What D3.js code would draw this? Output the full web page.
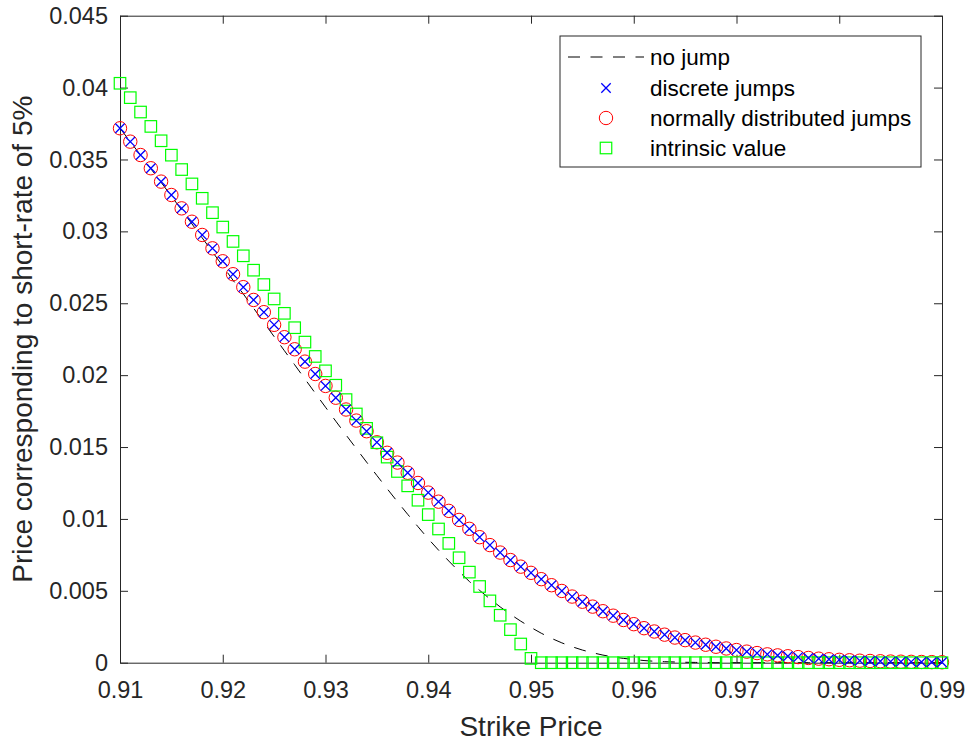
<!DOCTYPE html>
<html>
<head>
<meta charset="utf-8">
<script src="https://cdn.jsdelivr.net/npm/d3@7"></script>
<style>
  body { margin: 0; background: #fff; }
  svg { font-family: "Liberation Sans", Arial, sans-serif; }
</style>
</head>
<body>
<svg id="chart"></svg>
<script>
const strikes = [
  0.910, 0.911, 0.912, 0.913, 0.914, 0.915, 0.916, 0.917, 0.918, 0.919,
  0.920, 0.921, 0.922, 0.923, 0.924, 0.925, 0.926, 0.927, 0.928, 0.929,
  0.930, 0.931, 0.932, 0.933, 0.934, 0.935, 0.936, 0.937, 0.938, 0.939,
  0.940, 0.941, 0.942, 0.943, 0.944, 0.945, 0.946, 0.947, 0.948, 0.949,
  0.950, 0.951, 0.952, 0.953, 0.954, 0.955, 0.956, 0.957, 0.958, 0.959,
  0.960, 0.961, 0.962, 0.963, 0.964, 0.965, 0.966, 0.967, 0.968, 0.969,
  0.970, 0.971, 0.972, 0.973, 0.974, 0.975, 0.976, 0.977, 0.978, 0.979,
  0.980, 0.981, 0.982, 0.983, 0.984, 0.985, 0.986, 0.987, 0.988, 0.989,
  0.990
];

const noJump = [
  0.03717, 0.03624, 0.03530, 0.03436, 0.03341, 0.03245, 0.03149, 0.03052, 0.02955, 0.02857,
  0.02759, 0.02660, 0.02565, 0.02466, 0.02367, 0.02268, 0.02170, 0.02072, 0.01973, 0.01875,
  0.01777, 0.01680, 0.01584, 0.01489, 0.01395, 0.01302, 0.01210, 0.01120, 0.01032, 0.00946,
  0.00862, 0.00783, 0.00707, 0.00634, 0.00565, 0.00503, 0.00444, 0.00388, 0.00336, 0.00289,
  0.00245, 0.00205, 0.00169, 0.00138, 0.00111, 0.00088, 0.00069, 0.00053, 0.00040, 0.00030,
  0.00022, 0.00015, 0.00010, 0.00007, 0.00005, 0.00003, 0.00002, 0.00001, 0, 0,
  0, 0, 0, 0, 0, 0, 0, 0, 0, 0,
  0, 0, 0, 0, 0, 0, 0, 0, 0, 0,
  0
];

const discreteJumps = [
  0.03717, 0.03624, 0.03531, 0.03439, 0.03346, 0.03253, 0.03160, 0.03067, 0.02975, 0.02882,
  0.02792, 0.02702, 0.02612, 0.02523, 0.02438, 0.02350, 0.02264, 0.02180, 0.02094, 0.02008,
  0.01925, 0.01843, 0.01761, 0.01684, 0.01610, 0.01533, 0.01460, 0.01392, 0.01321, 0.01250,
  0.01183, 0.01120, 0.01056, 0.00993, 0.00931, 0.00873, 0.00818, 0.00766, 0.00714, 0.00668,
  0.00625, 0.00581, 0.00539, 0.00499, 0.00460, 0.00424, 0.00390, 0.00358, 0.00327, 0.00297,
  0.00268, 0.00240, 0.00217, 0.00195, 0.00175, 0.00157, 0.00140, 0.00125, 0.00111, 0.00099,
  0.00088, 0.00077, 0.00067, 0.00058, 0.00051, 0.00045, 0.00039, 0.00033, 0.00028, 0.00024,
  0.00020, 0.00017, 0.00014, 0.00012, 0.00010, 0.00008, 0.00007, 0.00006, 0.00005, 0.00004,
  0.00003
];

const normalJumps = [
  0.03717, 0.03624, 0.03531, 0.03439, 0.03346, 0.03253, 0.03160, 0.03067, 0.02975, 0.02882,
  0.02792, 0.02702, 0.02612, 0.02523, 0.02438, 0.02350, 0.02264, 0.02180, 0.02094, 0.02008,
  0.01925, 0.01843, 0.01761, 0.01684, 0.01610, 0.01533, 0.01460, 0.01392, 0.01321, 0.01250,
  0.01183, 0.01120, 0.01056, 0.00993, 0.00931, 0.00873, 0.00818, 0.00766, 0.00714, 0.00668,
  0.00625, 0.00581, 0.00539, 0.00499, 0.00460, 0.00424, 0.00390, 0.00358, 0.00327, 0.00297,
  0.00268, 0.00240, 0.00217, 0.00195, 0.00175, 0.00157, 0.00140, 0.00125, 0.00111, 0.00099,
  0.00088, 0.00077, 0.00067, 0.00058, 0.00051, 0.00045, 0.00039, 0.00033, 0.00028, 0.00024,
  0.00020, 0.00017, 0.00014, 0.00012, 0.00010, 0.00008, 0.00007, 0.00006, 0.00005, 0.00004,
  0.00003
];

const intrinsicValue = [
  0.0403, 0.0393, 0.0383, 0.0373, 0.0363, 0.0353, 0.0343, 0.0333, 0.0323, 0.0313,
  0.0303, 0.0293, 0.0283, 0.0273, 0.0263, 0.0253, 0.0243, 0.0233, 0.0223, 0.0213,
  0.0203, 0.0193, 0.0183, 0.0173, 0.0163, 0.0153, 0.0143, 0.0133, 0.0123, 0.0113,
  0.0103, 0.0093, 0.0083, 0.0073, 0.0063, 0.0053, 0.0043, 0.0033, 0.0023, 0.0013,
  0.0003, 0, 0, 0, 0, 0, 0, 0, 0, 0,
  0, 0, 0, 0, 0, 0, 0, 0, 0, 0,
  0, 0, 0, 0, 0, 0, 0, 0, 0, 0,
  0, 0, 0, 0, 0, 0, 0, 0, 0, 0,
  0
];

const xTicks = [0.91, 0.92, 0.93, 0.94, 0.95, 0.96, 0.97, 0.98, 0.99];
const yTicks = [0, 0.005, 0.01, 0.015, 0.02, 0.025, 0.03, 0.035, 0.04, 0.045];
const legendLabels = ["no jump", "discrete jumps", "normally distributed jumps", "intrinsic value"];

const W = 966, H = 743;
const margin = { top: 15.7, right: 24, bottom: 80.3, left: 120 };
const width = W - margin.left - margin.right;
const height = H - margin.top - margin.bottom;
const axisColor = "#262626";
const dash = "12,10.5";

const svg = d3.select("#chart").attr("width", W).attr("height", H);
svg.append("rect").attr("width", W).attr("height", H).attr("fill", "#fff");

const g = svg.append("g").attr("transform", `translate(${margin.left},${margin.top})`);

const x = d3.scaleLinear().domain([0.91, 0.99]).range([0, width]);
const y = d3.scaleLinear().domain([0, 0.045]).range([height, 0]);

function styleAxis(sel) {
    sel.select(".domain").attr("stroke", axisColor).attr("stroke-width", 1);
    sel.selectAll(".tick line").attr("stroke", axisColor).attr("stroke-width", 1);
    sel.selectAll(".tick text").attr("fill", axisColor).style("font-size", "23.5px");
}

g.append("g")
    .attr("transform", `translate(0,${height})`)
    .call(d3.axisBottom(x).tickValues(xTicks).tickFormat(d => +d.toFixed(2)).tickSizeInner(-8).tickSizeOuter(0).tickPadding(19))
    .call(styleAxis);

g.append("g")
    .call(d3.axisLeft(y).tickValues(yTicks).tickFormat(d => +d.toFixed(3)).tickSizeInner(-8).tickSizeOuter(0).tickPadding(12))
    .call(styleAxis);

g.append("g")
    .call(d3.axisTop(x).tickValues(xTicks).tickFormat("").tickSizeInner(-8).tickSizeOuter(0))
    .call(styleAxis);

g.append("g")
    .attr("transform", `translate(${width},0)`)
    .call(d3.axisRight(y).tickValues(yTicks).tickFormat("").tickSizeInner(-8).tickSizeOuter(0))
    .call(styleAxis);

// no jump curve
const line = d3.line().x((d, i) => x(strikes[i])).y(d => y(d));
g.append("path")
    .datum(noJump)
    .attr("fill", "none")
    .attr("stroke", "#000")
    .attr("stroke-width", 1)
    .attr("stroke-dasharray", dash)
    .attr("d", line);

// normally distributed jumps
g.selectAll(".circ")
    .data(normalJumps)
    .enter()
    .append("circle")
    .attr("cx", (d, i) => x(strikes[i]))
    .attr("cy", d => y(d))
    .attr("r", 6.7)
    .attr("fill", "none")
    .attr("stroke", "#ff0000")
    .attr("stroke-width", 1);

// intrinsic value
const sq = 11.5;
g.selectAll(".sq")
    .data(intrinsicValue)
    .enter()
    .append("rect")
    .attr("x", (d, i) => x(strikes[i]) - sq / 2)
    .attr("y", d => y(d) - sq / 2)
    .attr("width", sq)
    .attr("height", sq)
    .attr("fill", "none")
    .attr("stroke", "#00ff00")
    .attr("stroke-width", 1.2);

// discrete jumps
const xs = 4.7;
g.selectAll(".cross")
    .data(discreteJumps)
    .enter()
    .append("path")
    .attr("transform", (d, i) => `translate(${x(strikes[i])},${y(d)})`)
    .attr("d", `M${-xs},${-xs}L${xs},${xs}M${-xs},${xs}L${xs},${-xs}`)
    .attr("stroke", "#0000ff")
    .attr("stroke-width", 1.3)
    .attr("fill", "none");

// axis labels
svg.append("text")
    .attr("x", margin.left + width / 2)
    .attr("y", 736)
    .attr("text-anchor", "middle")
    .attr("fill", axisColor)
    .style("font-size", "28px")
    .text("Strike Price");

svg.append("text")
    .attr("transform", `translate(32,${margin.top + height / 2}) rotate(-90)`)
    .attr("text-anchor", "middle")
    .attr("fill", axisColor)
    .style("font-size", "28px")
    .text("Price corresponding to short-rate of 5%");

// legend
const legend = svg.append("g").attr("transform", "translate(560,36)");
legend.append("rect")
    .attr("width", 361)
    .attr("height", 131)
    .attr("fill", "#fff")
    .attr("stroke", axisColor)
    .attr("stroke-width", 1);

const rowY = [21, 52, 82, 112];
const mx = 46;
legendLabels.forEach((label, i) => {
    const ly = rowY[i];
    if (i === 0) {
        legend.append("line")
            .attr("x1", 8).attr("x2", 84)
            .attr("y1", ly).attr("y2", ly)
            .attr("stroke", "#000")
            .attr("stroke-dasharray", dash);
    } else if (i === 1) {
        legend.append("path")
            .attr("transform", `translate(${mx},${ly})`)
            .attr("d", `M${-xs},${-xs}L${xs},${xs}M${-xs},${xs}L${xs},${-xs}`)
            .attr("stroke", "#0000ff").attr("stroke-width", 1.3);
    } else if (i === 2) {
        legend.append("circle")
            .attr("cx", mx).attr("cy", ly).attr("r", 6.7)
            .attr("fill", "none").attr("stroke", "#ff0000");
    } else {
        legend.append("rect")
            .attr("x", mx - sq / 2).attr("y", ly - sq / 2)
            .attr("width", sq).attr("height", sq)
            .attr("fill", "none").attr("stroke", "#00ff00").attr("stroke-width", 1.2);
    }
    legend.append("text")
        .attr("x", 90)
        .attr("y", ly)
        .attr("dy", "0.35em")
        .attr("fill", "#000")
        .style("font-size", "22.5px")
        .text(label);
});
</script>
</body>
</html>
